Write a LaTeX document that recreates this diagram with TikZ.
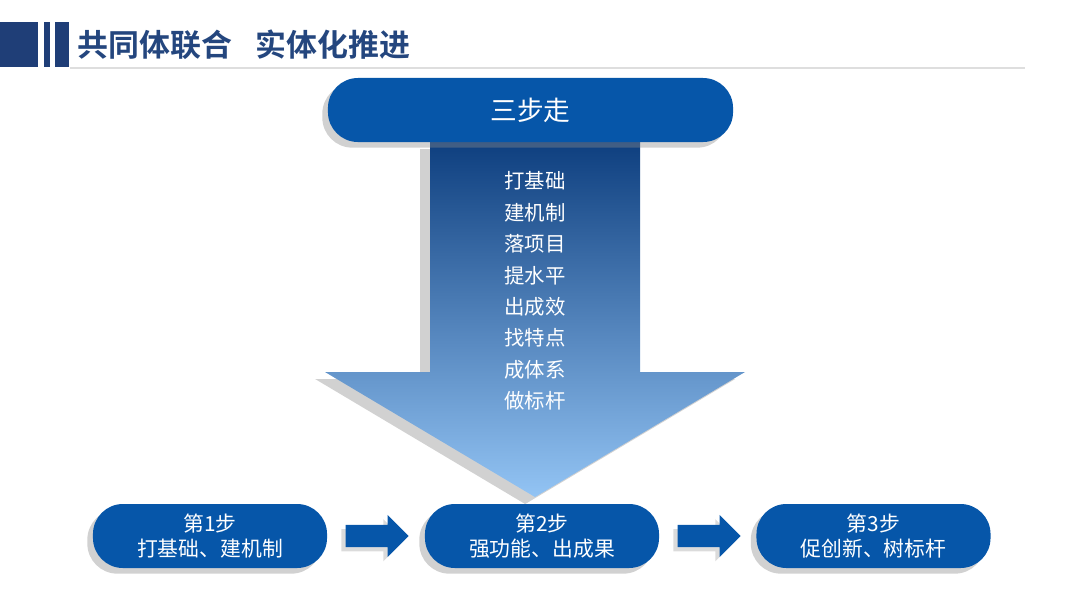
\documentclass[tikz,border=0pt]{standalone}
\usepackage{fontspec}
\setmainfont{Noto Sans CJK SC}[BoldFont={Noto Sans CJK SC Bold}]
\usepackage{xcolor}
\usepackage{tikz}
\usetikzlibrary{positioning, shapes.arrows, shadows}

\definecolor{barNavy}{HTML}{1F3E77}
\definecolor{titleBlue}{HTML}{24467E}
\definecolor{boxBlue}{HTML}{0656A9}
\definecolor{arrowTop}{HTML}{0E3F7F}
\definecolor{arrowMid}{HTML}{4A82C6}
\definecolor{arrowBot}{HTML}{93C4F4}

\begin{document}
\begin{tikzpicture}[x=0.025cm, y=-0.025cm,
    pill/.style={fill=boxBlue, rounded corners=0.75cm, text=white, align=center,
        minimum height=1.6cm, drop shadow={shadow xshift=-4pt, shadow yshift=-4pt, fill=black!45, opacity=.4}},
    stepbox/.style={pill, minimum width=5.85cm, font=\fontsize{14.8}{18}\selectfont},
    steparrow/.style={single arrow, fill=boxBlue, inner sep=0.27cm, minimum height=1.575cm,
        single arrow head extend=0.25cm, single arrow head indent=0pt, anchor=tail,
        drop shadow={shadow xshift=-3pt, shadow yshift=-3pt, fill=black!40, opacity=.35}}]
    \useasboundingbox (0,0) rectangle (1080,608);

    % title bar
    \fill[barNavy] (0,22) rectangle (38,67);
    \fill[barNavy] (44,22) rectangle (50,67);
    \fill[barNavy] (55,22) rectangle (69,67);
    \node (title) [anchor=west, text=titleBlue, font=\fontsize{22}{26}\bfseries] at (73,45) {共同体联合\hspace{0.75em}实体化推进};
    \draw[black!13, line width=1.5pt] (70,68) -- (1025,68);

    % big arrow
    \shade[top color=arrowTop, middle color=arrowMid, bottom color=arrowBot,
        drop shadow={shadow xshift=-7pt, shadow yshift=-5pt, fill=black!45, opacity=.4}]
        (430,142) -- (640,142) -- (640,372) -- (745,372) -- (535,497) -- (325,372) -- (430,372) -- cycle;
    \node (top) [pill, minimum width=10.125cm, font=\fontsize{19}{23}\selectfont] at (530.5,110) {三步走};
    \node (items) [text=white, align=center, font=\fontsize{14.5}{22.3}\selectfont] at (535,291)
        {打基础\\建机制\\落项目\\提水平\\出成效\\找特点\\成体系\\做标杆};

    % three steps
    \node (s1) [stepbox] at (210,536) {第1步\\打基础、建机制};
    \node (s2) [stepbox] at (542,536) {第2步\\强功能、出成果};
    \node (s3) [stepbox] at (873.5,536) {第3步\\促创新、树标杆};
    \node (a12) [steparrow] at ([xshift=0.45cm]s1.east) {};
    \node (a23) [steparrow] at ([xshift=0.45cm]s2.east) {};
\end{tikzpicture}
\end{document}
